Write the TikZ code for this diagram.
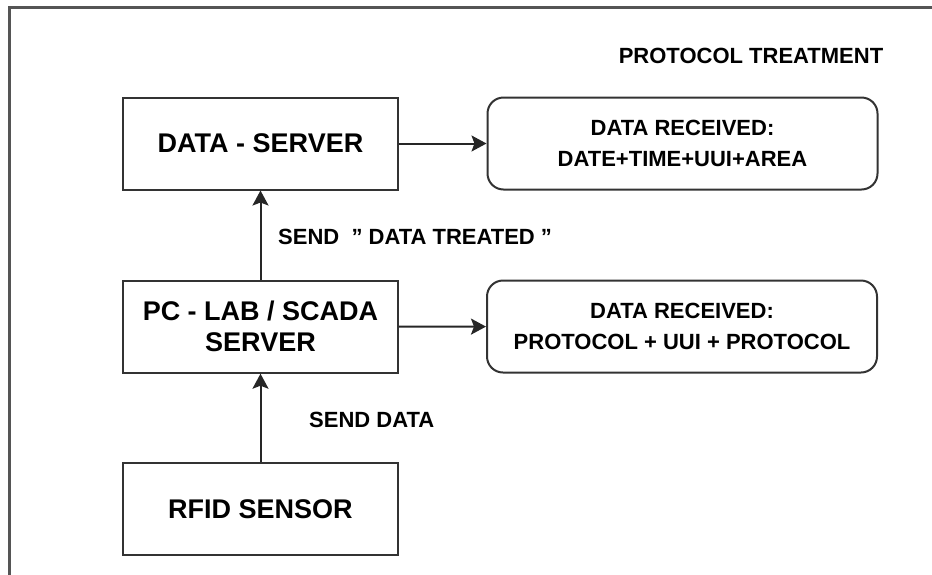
\documentclass[tikz,border=0pt]{standalone}
\usepackage{fontspec}
\setmainfont{Liberation Sans}
\usetikzlibrary{arrows.meta}
\definecolor{edge}{HTML}{333333}
\definecolor{frame}{HTML}{555555}
\tikzset{
  box/.style={draw=edge, line width=2pt, rectangle, minimum width=275pt, minimum height=92pt,
    inner sep=0pt, align=center, font=\bfseries\fontsize{27}{31}\selectfont},
  infobox/.style={draw=edge, line width=2pt, rectangle, rounded corners=16pt, minimum width=390pt,
    minimum height=92pt, inner sep=0pt, align=center, font=\bfseries\fontsize{22}{31}\selectfont},
  lbl/.style={inner sep=0pt, font=\bfseries\fontsize{22}{26}\selectfont},
  conn/.style={draw=black!85, line width=2pt, -{Stealth[length=15pt,width=16pt,inset=3pt]}}
}
\begin{document}
\begin{tikzpicture}[x=1pt,y=-1pt]
\useasboundingbox (0,0) rectangle (932,574);
\clip (0,0) rectangle (932,574);
% outer frame, only its top and left sides fall inside the page
\draw[frame, line width=3pt] (9.5,600) -- (9.5,7) -- (960,7);

\node[lbl] (title) at (751,55.5) {PROTOCOL TREATMENT};

\node[box] (ds) at (260.5,143.5) {DATA - SERVER};
\node[infobox] (r1) at (682.5,143.5) {DATA RECEIVED:\\DATE+TIME+UUI+AREA};

\node[box] (pc) at (260.5,326.7) {PC - LAB / SCADA\\SERVER};
\node[infobox] (r2) at (682,326.5) {DATA RECEIVED:\\PROTOCOL + UUI + PROTOCOL};

\node[box] (rfid) at (260.5,509) {RFID SENSOR};

\node[lbl, anchor=west] (l1) at (278,237) {SEND \ \char34\ DATA TREATED \char34};
\node[lbl, anchor=west] (l2) at (309,420) {SEND DATA};

\draw[conn] (ds) -- (r1);
\draw[conn] (pc) -- (r2);
\draw[conn] (pc) -- (ds);
\draw[conn] (rfid) -- (pc);
\end{tikzpicture}
\end{document}
